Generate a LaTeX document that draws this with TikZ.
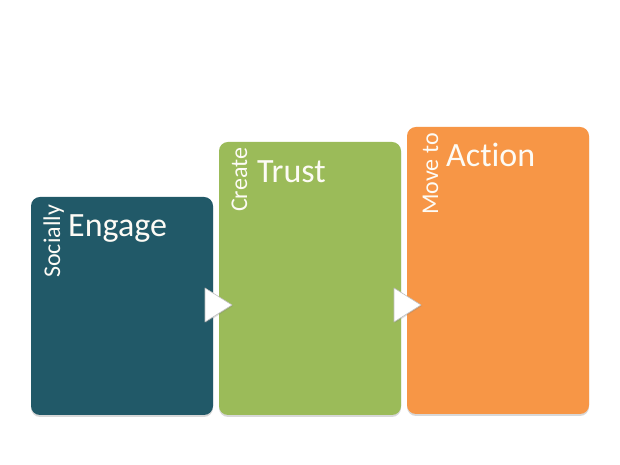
\documentclass[tikz,border=0pt]{standalone}
\usepackage{fontspec}
\setmainfont[Ligatures={NoCommon}]{Carlito}
\usetikzlibrary{shadows}
\definecolor{teal1}{HTML}{215968}
\definecolor{green1}{HTML}{9BBB59}
\definecolor{orange1}{HTML}{F79646}
\definecolor{txt}{HTML}{FDFBF5}
\begin{document}
\begin{tikzpicture}[x=1pt,y=1pt,
  stagebox/.style={rounded corners=9pt, drop shadow={opacity=0.3, shadow xshift=0pt, shadow yshift=-2pt}},
  bigword/.style={anchor=base west, inner sep=0pt, text=txt, font=\fontsize{34}{38}\selectfont},
  sideword/.style={anchor=base west, inner sep=0pt, rotate=90, text=txt, font=\fontsize{24}{27}\selectfont},
  arrowtri/.style={fill=white, draw=black!25, line width=0.6pt, line join=round, drop shadow={opacity=0.25, shadow xshift=1pt, shadow yshift=-1pt}}]
\useasboundingbox (0,0) rectangle (620,465);
\fill[white] (0,0) rectangle (620,465);
% boxes
\fill[teal1, stagebox] (31,50) rectangle (213,268);
\fill[green1, stagebox] (219,50) rectangle (401,323);
\fill[orange1, stagebox] (407,51) rectangle (589,338);
% texts
\node[bigword] (engage) at (68,228) {Engage};
\node[sideword] (socially) at (60,187) {Socially};
\node[bigword] (trust) at (257,282) {Trust};
\node[sideword] (create) at (247,253) {Create};
\node[bigword] (action) at (446,298) {Action};
\node[sideword] (moveto) at (438,250) {Move to};
% arrows
\draw[arrowtri] (205,177) -- (232,160) -- (205,143) -- cycle;
\draw[arrowtri] (394,177) -- (421,160) -- (394,143) -- cycle;
\end{tikzpicture}
\end{document}
